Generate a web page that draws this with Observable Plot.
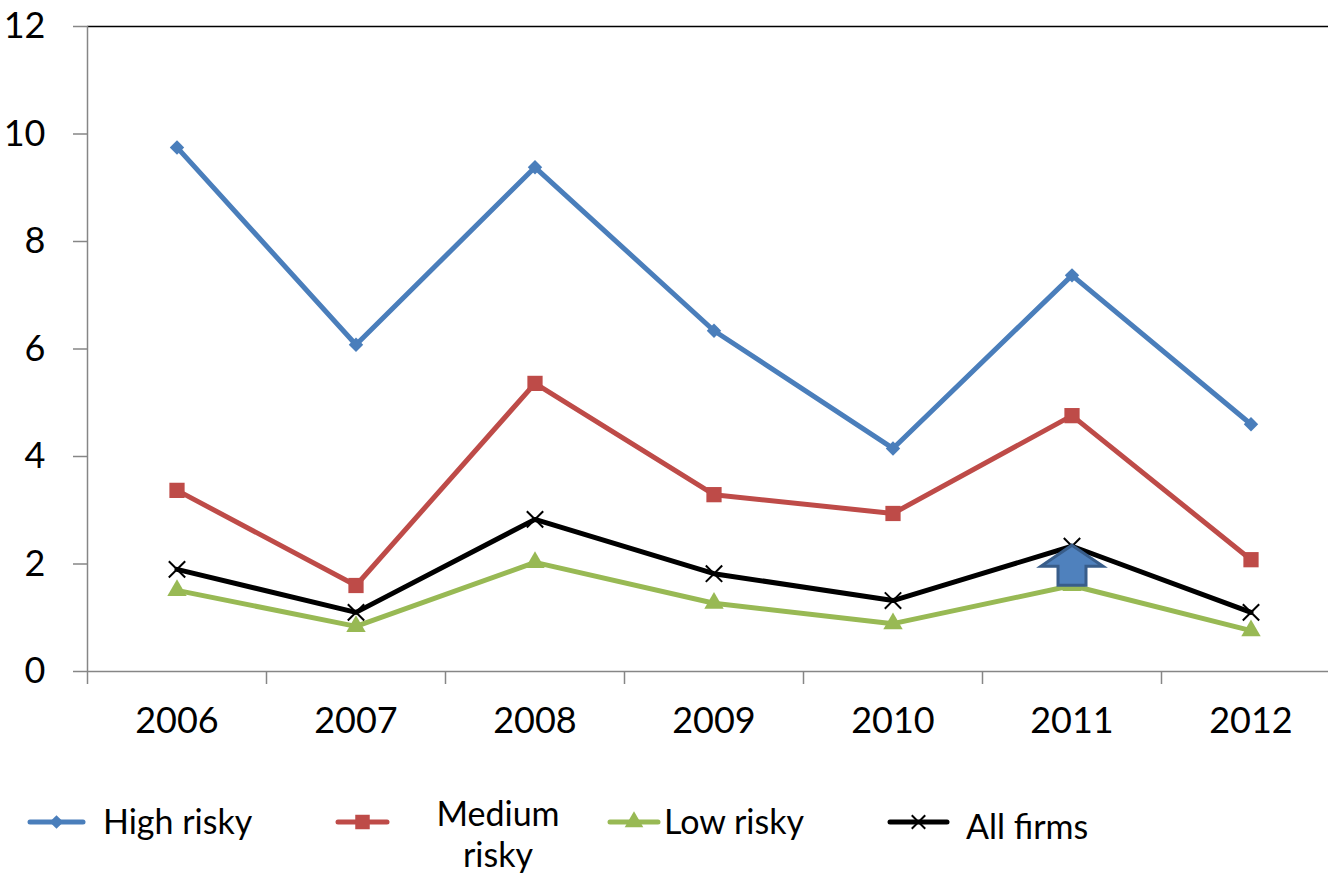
<!DOCTYPE html>
<html>
<head>
<meta charset="utf-8">
<script src="https://cdn.jsdelivr.net/npm/d3@7"></script>
<script src="https://cdn.jsdelivr.net/npm/@observablehq/plot@0.6"></script>
<style>
  html, body { margin: 0; padding: 0; background: #fff; }
  #wrap { position: relative; width: 1328px; height: 874px; overflow: hidden; font-family: Lato, "Open Sans", sans-serif; }
  #legend { position: absolute; left: 0; top: 0; width: 1328px; height: 874px; pointer-events: none; }
  .item { position: absolute; font-size: 34px; color: #000; line-height: 1; white-space: nowrap; }
</style>
</head>
<body>
<div id="wrap"><div id="chart"></div><div id="legend"></div></div>
<script>
const years = ["2006", "2007", "2008", "2009", "2010", "2011", "2012"];
const highRisky = [9.75, 6.08, 9.38, 6.34, 4.15, 7.37, 4.60];
const mediumRisky = [3.37, 1.60, 5.36, 3.29, 2.94, 4.76, 2.08];
const lowRisky = [1.51, 0.84, 2.03, 1.27, 0.89, 1.60, 0.76];
const allFirms = [1.90, 1.10, 2.83, 1.82, 1.32, 2.33, 1.10];
const yTicks = [0, 2, 4, 6, 8, 10, 12];
const seriesNames = ["High risky", "Medium risky", "Low risky", "All firms"];
const arrowNote = [{year: "2011", value: 1.96}];

const colors = {"High risky": "#4a7ebb", "Medium risky": "#be4b48", "Low risky": "#98b954", "All firms": "#000000"};

function rows(name, vals) { return years.map((y, i) => ({i, year: y, value: vals[i], series: name})); }
const high = rows("High risky", highRisky);
const med = rows("Medium risky", mediumRisky);
const low = rows("Low risky", lowRisky);
const all = rows("All firms", allFirms);
const idx = years.map((_, i) => i);
const bounds = years.map((_, i) => i - 0.5).concat([years.length - 0.5]);

const arrowSymbol = {
  draw(ctx) {
    ctx.moveTo(0, -21);
    ctx.lineTo(31, 0);
    ctx.lineTo(14, 0);
    ctx.lineTo(14, 19);
    ctx.lineTo(-14, 19);
    ctx.lineTo(-14, 0);
    ctx.lineTo(-31, 0);
    ctx.closePath();
  }
};

const chart = Plot.plot({
  width: 1328,
  height: 780,
  marginLeft: 87, marginTop: 26, marginBottom: 109, marginRight: 0,
  style: {fontFamily: "Lato, 'Open Sans', sans-serif", background: "#fff", overflow: "hidden"},
  x: {type: "linear", domain: [-0.5, years.length - 0.5], range: [87, 1340]},
  y: {domain: [0, 12], range: [671, 26]},
  marks: [
    Plot.ruleY([12], {stroke: "#000", strokeWidth: 1.5, x1: -0.5, x2: years.length - 0.5}),
    Plot.axisY({ticks: yTicks, tickSize: 14, tickPadding: 28, stroke: "#868686", strokeWidth: 1.5, fontSize: 36, label: null, color: "#000"}),
    Plot.axisX({ticks: bounds, tickSize: 13, tickFormat: () => "", stroke: "#868686", strokeWidth: 1.5, label: null}),
    Plot.axisX({ticks: idx, tickSize: 0, tickPadding: 36, tickFormat: i => years[i], fontSize: 36, color: "#000", label: null}),
    Plot.ruleX([-0.5], {stroke: "#868686", strokeWidth: 1.5}),
    Plot.ruleY([0], {stroke: "#868686", strokeWidth: 1.5}),
    Plot.line(high, {x: "i", y: "value", stroke: colors["High risky"], strokeWidth: 5}),
    Plot.dot(high, {x: "i", y: "value", symbol: "diamond2", r: 6.5, fill: colors["High risky"], stroke: "none"}),
    Plot.line(med, {x: "i", y: "value", stroke: colors["Medium risky"], strokeWidth: 5}),
    Plot.dot(med, {x: "i", y: "value", symbol: "square", r: 8.6, fill: colors["Medium risky"], stroke: "none"}),
    Plot.line(low, {x: "i", y: "value", stroke: colors["Low risky"], strokeWidth: 5}),
    Plot.dot(low, {x: "i", y: "value", symbol: "triangle", r: 7.2, fill: colors["Low risky"], stroke: "none"}),
    Plot.line(all, {x: "i", y: "value", stroke: colors["All firms"], strokeWidth: 5}),
    Plot.dot(all, {x: "i", y: "value", symbol: "times", r: 7.5, stroke: "#000", strokeWidth: 2}),
    Plot.dot(arrowNote, {x: d => years.indexOf(d.year), y: "value", symbol: arrowSymbol, fill: "#4f81bd", stroke: "#385d8a", strokeWidth: 3})
  ]
});
document.getElementById("chart").appendChild(chart);

// Legend
const legendItems = [
  {name: "High risky", symbol: d3.symbolDiamond2, size: 120, line: [30, 83], text: "High risky", tx: 103, ty: 822, ly: 822},
  {name: "Medium risky", symbol: d3.symbolSquare, size: 210, line: [338, 387], text: "Medium<br>risky", tx: 498, ty: 812, ly: 822, center: true},
  {name: "Low risky", symbol: d3.symbolTriangle, size: 150, line: [610, 658], text: "Low risky", tx: 664, ty: 822, ly: 822},
  {name: "All firms", symbol: d3.symbolTimes, size: 120, line: [890, 947], text: "All firms", tx: 966, ty: 827, ly: 822, stroke: true}
];
const legend = d3.select("#legend");
const lsvg = legend.append("svg").attr("width", 1328).attr("height", 874).style("position", "absolute").style("left", 0).style("top", 0);
legendItems.forEach(it => {
  const c = colors[it.name];
  lsvg.append("line").attr("x1", it.line[0]).attr("x2", it.line[1]).attr("y1", it.ly).attr("y2", it.ly)
    .attr("stroke", c).attr("stroke-width", 5).attr("stroke-linecap", "round");
  const cx = (it.line[0] + it.line[1]) / 2;
  lsvg.append("path").attr("d", d3.symbol(it.symbol, it.size)())
    .attr("transform", `translate(${cx},${it.ly})`)
    .attr("fill", it.stroke ? "none" : c).attr("stroke", it.stroke ? c : "none").attr("stroke-width", 2);
  const div = legend.append("div").attr("class", "item").html(it.text);
  if (it.center) {
    div.style("left", (it.tx - 100) + "px").style("width", "200px").style("text-align", "center")
      .style("line-height", "41px").style("top", (it.ty - 20) + "px");
  } else {
    div.style("left", it.tx + "px").style("top", (it.ty - 18) + "px");
  }
});
</script>
</body>
</html>
